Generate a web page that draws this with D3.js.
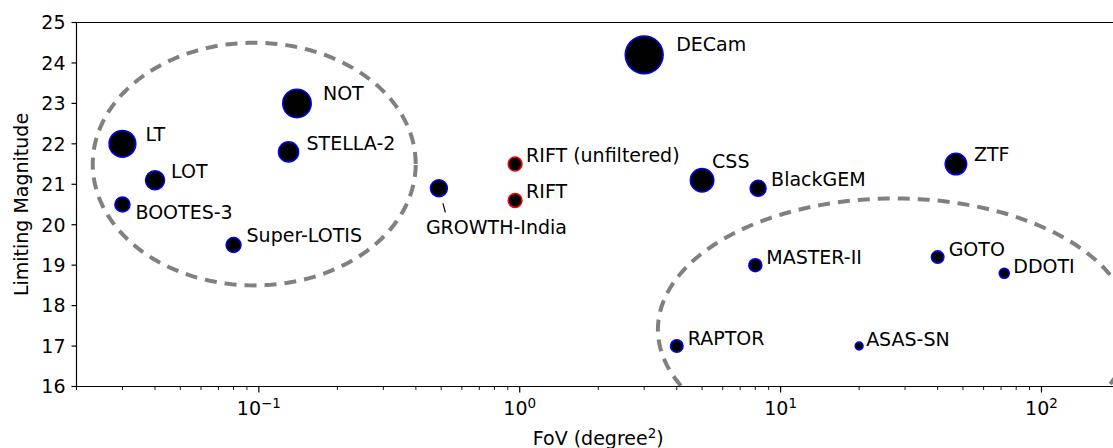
<!DOCTYPE html>
<meta charset="utf-8">
<style>
body { margin: 0; background: #fff; }
text { font-family: "DejaVu Sans", sans-serif; fill: #000; }
</style>
<body>
<script src="https://d3js.org/d3.v7.min.js"></script>
<script>

// telescopes: field of view (deg^2), limiting magnitude, marker size
var names = ["LT", "LOT", "BOOTES-3", "Super-LOTIS", "NOT", "STELLA-2", "GROWTH-India",
             "RIFT (unfiltered)", "RIFT", "DECam", "CSS", "BlackGEM", "ZTF",
             "MASTER-II", "GOTO", "DDOTI", "RAPTOR", "ASAS-SN"];
var fov = [0.03, 0.04, 0.03, 0.08, 0.14, 0.13, 0.49,
           0.96, 0.96, 3.0, 5.0, 8.2, 47,
           8.0, 40, 72, 4.0, 20];
var limMag = [22.0, 21.1, 20.5, 19.5, 23.0, 21.8, 20.9,
              21.5, 20.6, 24.2, 21.1, 20.9, 21.5,
              19.0, 19.2, 18.8, 17.0, 17.0];
var markerSize = [200, 106, 69, 67, 225, 117, 85,
                  59, 59, 388, 156, 76, 132,
                  53, 49, 34, 49, 22];
var kind = ["other", "other", "other", "other", "other", "other", "other",
            "rift", "rift", "other", "other", "other", "other",
            "other", "other", "other", "other", "other"];

// label offsets from the marker centre (text start, baseline)
var labelOffset = [[23, -3], [16, -2], [13, 14], [13, -3], [26, -3], [18, -2], [-13, 46],
                   [11, -2], [11, -2], [32, -4], [10, -12], [13, -2], [18, -3],
                   [11, -1], [11, -1], [9, 0], [11, -1], [7, 0]];

// dashed groupings: centre (fov, mag), half width in decades, half height in mag
var groupCx = [0.096, 27.4];
var groupCy = [21.5, 17.41];
var groupRx = [0.619, 0.908];
var groupRy = [3.0, 3.24];

var yTicks = [16, 17, 18, 19, 20, 21, 22, 23, 24, 25];

var data = names.map(function(n, i) {
  return {name: n, fov: fov[i], mag: limMag[i], size: markerSize[i], kind: kind[i], off: labelOffset[i]};
});

var W = 1113, H = 448;
var pL = 76.5, pR = 1120, pT = 22.5, pB = 386.5;
var fs = "19px", fsSup = "13.5px";

var svg = d3.select("body").append("svg")
    .attr("width", W)
    .attr("height", H);

var x = d3.scaleLog().domain([0.02, 200]).range([pL, pR]);
var y = d3.scaleLinear().domain([16, 25]).range([pB, pT]);
var r = d3.scaleSqrt().domain([0, 400]).range([0, 20]);
var edge = d3.scaleOrdinal().domain(["other", "rift"]).range(["#0000ff", "#ff0000"]);

svg.append("clipPath").attr("id", "plot-clip")
  .append("rect")
    .attr("x", pL).attr("y", pT)
    .attr("width", pR - pL).attr("height", pB - pT);

// dashed ellipses, drawn in log-x / linear-y space
var ellipseLine = d3.line()
    .x(function(d) { return x(d[0]); })
    .y(function(d) { return y(d[1]); });

var eg = svg.append("g").attr("clip-path", "url(#plot-clip)");
groupCx.forEach(function(cx, i) {
  var pts = d3.range(0, 361, 2).map(function(a) {
    var t = a * Math.PI / 180;
    return [Math.pow(10, Math.log10(cx) + groupRx[i] * Math.cos(t)), groupCy[i] + groupRy[i] * Math.sin(t)];
  });
  eg.append("path")
    .attr("d", ellipseLine(pts))
    .attr("fill", "none")
    .attr("stroke", "#808080")
    .attr("stroke-width", 4)
    .attr("stroke-dasharray", "12,8");
});

// frame
svg.append("path")
    .attr("d", "M" + pR + "," + pT + "H" + pL + "V" + pB + "H" + pR)
    .attr("fill", "none")
    .attr("stroke", "#000")
    .attr("stroke-width", 1.2);

// y axis
var yg = svg.append("g");
yTicks.forEach(function(t) {
  yg.append("line")
    .attr("x1", pL - 5).attr("x2", pL)
    .attr("y1", y(t)).attr("y2", y(t))
    .attr("stroke", "#000").attr("stroke-width", 1.2);
  yg.append("text")
    .attr("x", pL - 11)
    .attr("y", y(t))
    .attr("dy", "0.36em")
    .attr("text-anchor", "end")
    .style("font-size", fs)
    .text(t);
});

// x axis, log ticks
var xg = svg.append("g");
x.ticks().forEach(function(t) {
  var lg = Math.log10(t);
  var major = Math.abs(lg - Math.round(lg)) < 1e-9;
  xg.append("line")
    .attr("x1", x(t)).attr("x2", x(t))
    .attr("y1", pB).attr("y2", pB + (major ? 6 : 3.5))
    .attr("stroke", "#000").attr("stroke-width", major ? 1.2 : 0.9);
  if (major) {
    var lab = xg.append("text")
      .attr("x", x(t))
      .attr("y", 415)
      .attr("text-anchor", "middle")
      .style("font-size", fs);
    lab.append("tspan").text("10");
    lab.append("tspan")
      .attr("dy", -7)
      .style("font-size", fsSup)
      .text(String(Math.round(lg)).replace("-", "\u2212"));
  }
});

// axis titles
var xt = svg.append("text")
    .attr("x", (pL + pR) / 2)
    .attr("y", 445)
    .attr("text-anchor", "middle")
    .style("font-size", fs);
xt.append("tspan").text("FoV (degree");
xt.append("tspan").attr("dy", -7).style("font-size", fsSup).text("2");
xt.append("tspan").attr("dy", 7).text(")");

svg.append("text")
    .attr("transform", "translate(28," + ((pT + pB) / 2) + ") rotate(-90)")
    .attr("text-anchor", "middle")
    .style("font-size", fs)
    .text("Limiting Magnitude");

// markers
svg.append("g").selectAll("circle")
  .data(data)
  .enter()
  .append("circle")
    .attr("cx", function(d) { return x(d.fov); })
    .attr("cy", function(d) { return y(d.mag); })
    .attr("r", function(d) { return r(d.size) - 0.75; })
    .attr("fill", "#000")
    .attr("stroke", function(d) { return edge(d.kind); })
    .attr("stroke-width", 1.5);

// labels
svg.append("g").selectAll("text")
  .data(data)
  .enter()
  .append("text")
    .attr("x", function(d) { return x(d.fov) + d.off[0]; })
    .attr("y", function(d) { return y(d.mag) + d.off[1]; })
    .style("font-size", fs)
    .text(function(d) { return d.name; });

// small pointer for GROWTH-India
var gi = data[6];
svg.append("line")
    .attr("x1", x(gi.fov) + 4).attr("y1", y(gi.mag) + 15)
    .attr("x2", x(gi.fov) + 6.5).attr("y2", y(gi.mag) + 24)
    .attr("stroke", "#000").attr("stroke-width", 1.2);

</script>
</body>
